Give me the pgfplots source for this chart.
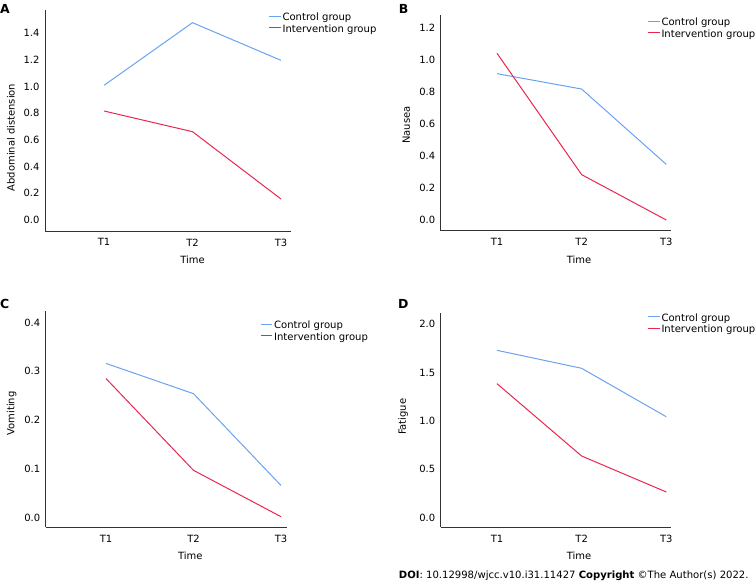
\documentclass[border=0pt]{standalone}
\usepackage{fontspec}
\setmainfont{DejaVu Sans}
\usepackage{pgfplots}
\pgfplotsset{compat=1.18}
\definecolor{ctrl}{HTML}{6AA2F0}
\definecolor{intv}{HTML}{E8264F}
\pgfplotsset{
  panel/.style={
    scale only axis,
    axis lines=left,
    axis line style={-, draw=black!80, line width=0.8pt},
    major tick length=0pt,
    xtick={1,2,3},
    xticklabels={T1,T2,T3},
    tick label style={font=\fontsize{10}{12}\selectfont},
    yticklabel style={xshift=-2bp, /pgf/number format/.cd, fixed, fixed zerofill, precision=1, assume math mode=true},
    xticklabel style={yshift=-4.2bp},
    label style={font=\fontsize{10}{12}\selectfont},
    xlabel={Time},
    xlabel style={at={(axis description cs:0.6,0)}, anchor=center, yshift=-28.8bp},
    legend cell align=left,
    legend image code/.code={\draw[##1] (0bp,1.9bp) -- (11.5bp,1.9bp);},
    legend style={draw=none, fill=none, inner sep=0pt, anchor=north west,
      font=\fontsize{10.1}{12}\selectfont,
      nodes={text height=7.5bp, text depth=2.2bp, inner ysep=0.95bp, inner xsep=1.5bp}},
    clip=false,
  },
  ctrlline/.style={color=ctrl, line width=1.0pt, no markers},
  intvline/.style={color=intv, line width=1.0pt, no markers},
}
\begin{document}
\begin{tikzpicture}
\useasboundingbox (0,0) rectangle (756bp,586bp);
% Panel A
\begin{axis}[panel, at={(45bp,355bp)}, anchor=south west,
  width=246bp, height=221bp,
  xmin=0.3333, xmax=3.113, ymin=-0.0823, ymax=1.572,
  ytick={0,0.2,0.4,0.6,0.8,1.0,1.2,1.4},
  ylabel={Abdominal distension},
  ylabel style={at={([xshift=-34bp]axis description cs:0,0.423)}, anchor=center},
  legend style={at={(axis description cs:0.908,0.991)}}]
\addplot[ctrlline] coordinates {(1,1.008)(2,1.477)(3,1.195)};
\addlegendentry{Control group}
\addplot[intvline] coordinates {(1,0.816)(2,0.661)(3,0.157)};
\addlegendentry{Intervention group}
\end{axis}
% Panel B
\begin{axis}[panel, at={(440.7bp,355.3bp)}, anchor=south west,
  width=230.6bp, height=215.7bp,
  xmin=0.335, xmax=3.059, ymin=-0.0667, ymax=1.279,
  ytick={0,0.2,0.4,0.6,0.8,1.0,1.2},
  ylabel={Nausea},
  ylabel style={at={([xshift=-34.4bp]axis description cs:0,0.49)}, anchor=center},
  legend style={at={(axis description cs:0.896,0.991)}}]
\addplot[ctrlline] coordinates {(1,0.913)(2,0.817)(3,0.347)};
\addlegendentry{Control group}
\addplot[intvline] coordinates {(1,1.04)(2,0.283)(3,0.0)};
\addlegendentry{Intervention group}
\end{axis}
% Panel C
\begin{axis}[panel, at={(45.7bp,58.7bp)}, anchor=south west,
  width=241bp, height=216.6bp,
  xmin=0.311, xmax=3.065, ymin=-0.0197, ymax=0.424,
  ytick={0,0.1,0.2,0.3,0.4},
  ylabel={Vomiting},
  ylabel style={at={([xshift=-34bp]axis description cs:0,0.526)}, anchor=center},
  legend style={at={(axis description cs:0.889,0.956)}}]
\addplot[ctrlline] coordinates {(1,0.316)(2,0.254)(3,0.066)};
\addlegendentry{Control group}
\addplot[intvline] coordinates {(1,0.285)(2,0.097)(3,0.002)};
\addlegendentry{Intervention group}
\end{axis}
% Panel D
\begin{axis}[panel, at={(440.7bp,58.7bp)}, anchor=south west,
  width=230.6bp, height=214.6bp,
  xmin=0.335, xmax=3.059, ymin=-0.099, ymax=2.12,
  ytick={0,0.5,1.0,1.5,2.0},
  ylabel={Fatigue},
  ylabel style={at={([xshift=-37.7bp]axis description cs:0,0.515)}, anchor=center},
  legend style={at={(axis description cs:0.896,1.001)}}]
\addplot[ctrlline] coordinates {(1,1.731)(2,1.545)(3,1.044)};
\addlegendentry{Control group}
\addplot[intvline] coordinates {(1,1.386)(2,0.638)(3,0.266)};
\addlegendentry{Intervention group}
\end{axis}
% Panel letters
\node[anchor=base west, inner sep=0pt, font=\fontsize{12.5}{14}\selectfont\bfseries] at (0bp,572bp) {A};
\node[anchor=base west, inner sep=0pt, font=\fontsize{12.5}{14}\selectfont\bfseries] at (398.7bp,572.7bp) {B};
\node[anchor=base west, inner sep=0pt, font=\fontsize{12.5}{14}\selectfont\bfseries] at (0bp,277bp) {C};
\node[anchor=base west, inner sep=0pt, font=\fontsize{12.5}{14}\selectfont\bfseries] at (398bp,277bp) {D};
% DOI line
\node[anchor=base west, inner sep=0pt, font=\fontsize{10.1}{12}\selectfont] at (398.7bp,8bp) {\textbf{DOI}: 10.12998/wjcc.v10.i31.11427 \textbf{Copyright} ©The Author(s) 2022.};
\end{tikzpicture}
\end{document}
